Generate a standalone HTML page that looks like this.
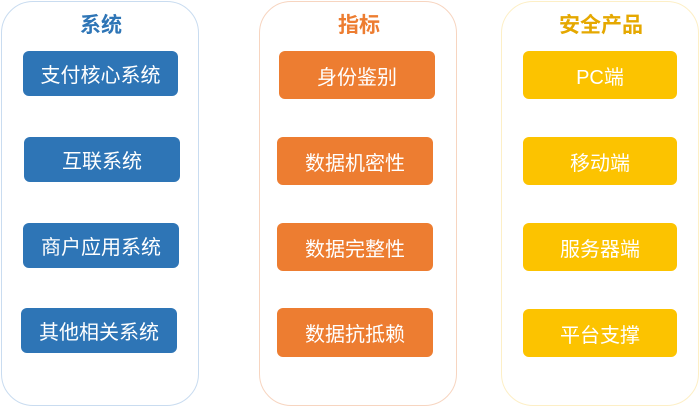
<!DOCTYPE html>
<html><head><meta charset="utf-8"><style>
body{margin:0;width:700px;height:408px;background:#fff;position:relative;overflow:hidden;font-family:"Liberation Sans","Noto Sans CJK SC",sans-serif}
.c{position:absolute;top:1px;width:198px;height:405px;border:1.5px solid;border-radius:32px;box-sizing:border-box}
.t{position:absolute;top:11px;width:200px;text-align:center;font-size:21px;font-weight:bold;line-height:30px}
.b{position:absolute;border-radius:6px;color:#fff;font-size:20px;text-align:center;display:flex;align-items:center;justify-content:center}
.bl{background:#2e75b6}.or{background:#ed7d31}.ye{background:#fcc300}
</style></head><body>
<div class="c" style="left:1px;border-color:#c9dcf0"></div>
<div class="c" style="left:259px;border-color:#f7d5c0"></div>
<div class="c" style="left:501px;border-color:#fdefc6"></div>
<div class="t" style="left:1px;color:#2e75b6">系统</div>
<div class="t" style="left:259px;color:#ed7d31">指标</div>
<div class="t" style="left:501px;color:#e5a800">安全产品</div>

<div class="b bl" style="left:23px;top:51px;width:155px;height:45px">支付核心系统</div>
<div class="b bl" style="left:24px;top:137px;width:156px;height:45px">互联系统</div>
<div class="b bl" style="left:23px;top:223px;width:156px;height:45px">商户应用系统</div>
<div class="b bl" style="left:21px;top:308px;width:156px;height:45px">其他相关系统</div>

<div class="b or" style="left:279px;top:51px;width:156px;height:48px">身份鉴别</div>
<div class="b or" style="left:277px;top:137px;width:156px;height:48px">数据机密性</div>
<div class="b or" style="left:277px;top:223px;width:156px;height:48px">数据完整性</div>
<div class="b or" style="left:277px;top:308px;width:156px;height:49px">数据抗抵赖</div>

<div class="b ye" style="left:523px;top:51px;width:154px;height:48px">PC端</div>
<div class="b ye" style="left:523px;top:137px;width:154px;height:48px">移动端</div>
<div class="b ye" style="left:523px;top:223px;width:154px;height:48px">服务器端</div>
<div class="b ye" style="left:523px;top:309px;width:154px;height:48px">平台支撑</div>
</body></html>
